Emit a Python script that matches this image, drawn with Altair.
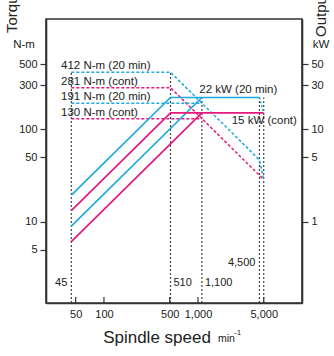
import altair as alt
import pandas as pd

BLUE = "#1ea9e1"
PINK = "#e4187f"
INK = "#333333"
TXT = "#222222"
FONT = "Liberation Sans"

# ---- data ----
# torque curves (N-m) against spindle speed (min^-1)
t412_speed = [45, 510, 4500, 5000]
t412_val = [412, 412, 46.7, 28.6]
t281_speed = [45, 510, 5000]
t281_val = [281, 281, 28.6]
t191_speed = [45, 1100]
t191_val = [191, 191]
t130_speed = [45, 1100]
t130_val = [130, 130]

# output curves (kW)
p22a_speed = [45, 510, 4500]
p22a_val = [1.94, 22, 22]
p22b_speed = [45, 1100]
p22b_val = [0.90, 22]
p15a_speed = [45, 510, 5000]
p15a_val = [1.32, 15, 15]
p15b_speed = [45, 1100]
p15b_val = [0.61, 15]
p22drop_speed = [4500, 5000]
p22drop_val = [22, 15]

torque_labels = ["412 N-m (20 min)", "281 N-m (cont)", "191 N-m (20 min)", "130 N-m (cont)"]
torque_label_vals = [412, 281, 191, 130]
power_labels = ["22 kW (20 min)", "15 kW (cont)"]
power_label_vals = [22, 15]

marker_speeds = [45, 510, 1100, 4500, 5000]
marker_tops = [412, 412, 220, 220, 220]

speed_labels_left = ["45", "4,500"]
speed_labels_left_x = [45, 4500]
speed_labels_left_y = [2.2, 3.6]
speed_labels_right = ["510", "1,100"]
speed_labels_right_x = [510, 1100]
speed_labels_right_y = [2.2, 2.2]

x_ticks = [50, 100, 500, 1000, 5000]
torque_ticks = [5, 10, 50, 100, 300, 500]
power_ticks = [1, 5, 10, 30, 50]

X_DOMAIN = [24.2, 12760]
T_DOMAIN = [1.33, 1548]
P_DOMAIN = [0.133, 154.8]

W, H = 256, 284

# ---- tables ----
def long(rows):
    out = []
    for name, color, sp, vals in rows:
        for s, v in zip(sp, vals):
            out.append({"series": name, "color": color, "speed": s, "value": v})
    return pd.DataFrame(out)

torque_df = long([
    ("t412", "blue", t412_speed, t412_val),
    ("t281", "pink", t281_speed, t281_val),
    ("t191", "blue", t191_speed, t191_val),
    ("t130", "pink", t130_speed, t130_val),
])
power_df = long([
    ("p22a", "blue", p22a_speed, p22a_val),
    ("p22b", "blue", p22b_speed, p22b_val),
    ("p15a", "pink", p15a_speed, p15a_val),
    ("p15b", "pink", p15b_speed, p15b_val),
])
drop_df = long([("p22d", "blue", p22drop_speed, p22drop_val)])

tlab_df = pd.DataFrame({"label": torque_labels, "value": torque_label_vals,
                        "speed": [35] * 4})
marker_df = pd.DataFrame({"speed": marker_speeds, "top": marker_tops,
                          "bottom": [T_DOMAIN[0]] * len(marker_speeds)})
sl_left = pd.DataFrame({"label": speed_labels_left, "speed": speed_labels_left_x,
                        "value": speed_labels_left_y})
sl_right = pd.DataFrame({"label": speed_labels_right, "speed": speed_labels_right_x,
                         "value": speed_labels_right_y})
xtick_df = pd.DataFrame({"speed": x_ticks})

color_scale = alt.Scale(domain=["blue", "pink"], range=[BLUE, PINK])

x_axis = alt.Axis(values=x_ticks, format=",d", ticks=False, labelPadding=5,
                  domainColor=INK, domainWidth=1.6, labelFont=FONT,
                  labelFontSize=11, labelColor=TXT, grid=False, title=None)
t_axis = alt.Axis(values=torque_ticks, format="d", orient="left", tickSize=6,
                  tickColor=INK, tickWidth=1.2, labelPadding=3, domainColor=INK,
                  domainWidth=1.6, labelFont=FONT, labelFontSize=11,
                  labelColor=TXT, grid=False, title=None)
p_axis = alt.Axis(values=power_ticks, format="d", orient="right", tickSize=6,
                  tickColor=INK, tickWidth=1.2, labelPadding=3, domainColor=INK,
                  domainWidth=1.6, labelFont=FONT, labelFontSize=11,
                  labelColor=TXT, grid=False, title=None)

def X(field="speed"):
    return alt.X(f"{field}:Q", scale=alt.Scale(type="log", domain=X_DOMAIN, nice=False),
                 axis=x_axis)

def TY(field="value"):
    return alt.Y(f"{field}:Q", scale=alt.Scale(type="log", domain=T_DOMAIN, nice=False),
                 axis=t_axis)

def PY(field="value"):
    return alt.Y(f"{field}:Q", scale=alt.Scale(type="log", domain=P_DOMAIN, nice=False),
                 axis=p_axis)

# ---- torque side ----
markers = alt.Chart(marker_df).mark_rule(color="#444444", strokeWidth=1.2,
                                         strokeDash=[2, 2]).encode(
    x=X(), y=TY("bottom"), y2="top:Q")

torque_lines = alt.Chart(torque_df).mark_line(strokeWidth=1.5, strokeDash=[3, 2]).encode(
    x=X(), y=TY(), detail="series:N",
    color=alt.Color("color:N", scale=color_scale, legend=None))

torque_text = alt.Chart(tlab_df).mark_text(align="left", baseline="middle", dy=-6,
                                           font=FONT, fontSize=11.5, color=TXT).encode(
    x=X(), y=TY(), text="label:N")

sp_left = alt.Chart(sl_left).mark_text(align="right", baseline="middle", dx=-4,
                                       font=FONT, fontSize=11, color=TXT).encode(
    x=X(), y=TY(), text="label:N")
sp_right = alt.Chart(sl_right).mark_text(align="left", baseline="middle", dx=3,
                                         font=FONT, fontSize=11, color=TXT).encode(
    x=X(), y=TY(), text="label:N")

xticks = alt.Chart(xtick_df).mark_rule(color=INK, strokeWidth=1.2).encode(
    x=X(), y=alt.value(H - 6), y2=alt.value(H))

def label(txt, x, y, size, **kw):
    return alt.Chart(pd.DataFrame({"t": [txt]})).mark_text(
        font=FONT, fontSize=size, color=TXT, **kw).encode(
        x=alt.value(x), y=alt.value(y), text="t:N")

titles = [
    label("N-m", -22, 26, 11.5),
    label("kW", 275, 26, 11.5),
    label("Torque", -34, 14, 15, angle=270, align="left", baseline="middle"),
    label("Output", 275, 18, 15, angle=270, align="left", baseline="middle"),
    label("Spindle speed", 111, 319, 17),
    label("min", 172, 320, 10.5, align="left"),
    label("-1", 188, 314, 8, align="left"),
]

torque_side = alt.layer(markers, torque_lines, torque_text, sp_left, sp_right,
                        xticks, *titles)

# ---- output side ----
power_lines = alt.Chart(power_df).mark_line(strokeWidth=1.7).encode(
    x=X(), y=PY(), detail="series:N",
    color=alt.Color("color:N", scale=color_scale, legend=None))
drop_line = alt.Chart(drop_df).mark_line(strokeWidth=1.5, strokeDash=[2, 2]).encode(
    x=X(), y=PY(), color=alt.Color("color:N", scale=color_scale, legend=None))

plab22 = alt.Chart(pd.DataFrame({"label": [power_labels[0]], "value": [power_label_vals[0]],
                                 "speed": [1032]})).mark_text(
    align="left", baseline="middle", dy=-7, font=FONT, fontSize=11.5, color=TXT).encode(
    x=X(), y=PY(), text="label:N")
plab15 = alt.Chart(pd.DataFrame({"label": [power_labels[1]], "value": [power_label_vals[1]],
                                 "speed": [2283]})).mark_text(
    align="left", baseline="middle", dy=8, font=FONT, fontSize=11.5, color=TXT).encode(
    x=X(), y=PY(), text="label:N")

power_side = alt.layer(power_lines, drop_line, plab22, plab15)

chart = alt.layer(torque_side, power_side).resolve_scale(
    y="independent", color="shared").properties(
    width=W, height=H,
    padding={"left": 46, "top": 19, "right": 32, "bottom": 53},
    autosize=alt.AutoSizeParams(type="none"),
    background="white",
).configure_view(stroke=INK, strokeWidth=1.6)

chart.save("out.html", embed_options={"renderer": "svg", "actions": False})
